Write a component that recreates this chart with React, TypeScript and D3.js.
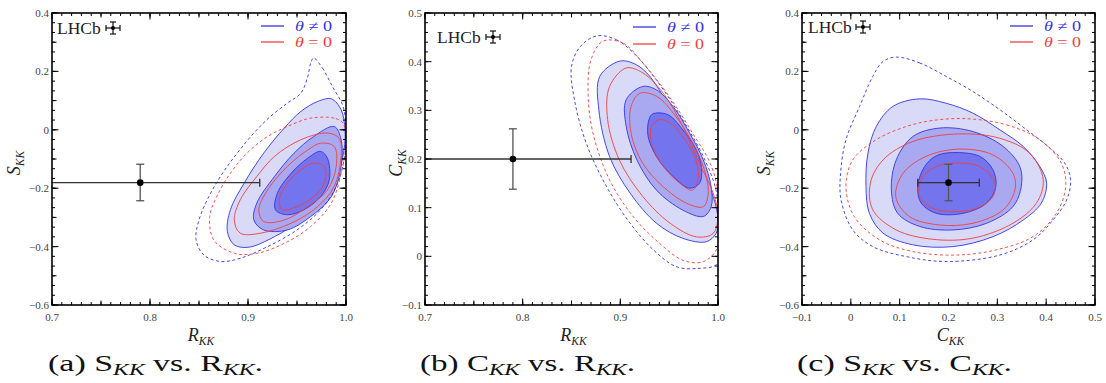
import React from "react";
import * as d3 from "d3";

type Pt = [number, number];

// ---- panel (a): S_KK vs R_KK ----
const aXTicks = [0.7, 0.8, 0.9, 1.0];
const aYTicks = [0.4, 0.2, 0, -0.2, -0.4, -0.6];

const aBlueDash: Pt[] = [
  [0.967, 0.246], [0.976, 0.211], [0.986, 0.149], [0.997, 0.08], [1.0, -0.011],
  [0.998, -0.103], [0.99, -0.194], [0.974, -0.274], [0.95, -0.343], [0.92, -0.4],
  [0.892, -0.44], [0.872, -0.451], [0.855, -0.429], [0.847, -0.377], [0.85, -0.309],
  [0.86, -0.229], [0.874, -0.149], [0.889, -0.08], [0.906, -0.011], [0.923, 0.046],
  [0.94, 0.091], [0.954, 0.126], [0.961, 0.183], [0.964, 0.229],
];
const aRedDash: Pt[] = [
  [0.997, 0.023], [0.988, 0.04], [0.964, 0.04], [0.944, 0.017], [0.92, -0.023],
  [0.899, -0.08], [0.882, -0.149], [0.868, -0.229], [0.861, -0.297], [0.865, -0.377],
  [0.886, -0.423], [0.909, -0.423], [0.937, -0.389], [0.964, -0.331], [0.985, -0.251],
  [0.995, -0.149], [1.0, -0.046],
];
const aBlue3: Pt[] = [
  [0.985, 0.106], [0.995, 0.069], [0.999, 0.0], [0.998, -0.069], [0.991, -0.16],
  [0.978, -0.24], [0.954, -0.309], [0.927, -0.366], [0.901, -0.402], [0.886, -0.394],
  [0.879, -0.349], [0.882, -0.274], [0.896, -0.183], [0.916, -0.08], [0.937, 0.006],
  [0.954, 0.063], [0.971, 0.097],
];
const aRed3: Pt[] = [
  [0.993, -0.029], [0.995, -0.091], [0.988, -0.194], [0.971, -0.263], [0.944, -0.32],
  [0.913, -0.354], [0.892, -0.354], [0.886, -0.309], [0.892, -0.24], [0.909, -0.16],
  [0.927, -0.091], [0.954, -0.034], [0.981, -0.011],
];
const aBlue2: Pt[] = [
  [0.988, 0.011], [0.995, -0.034], [0.995, -0.126], [0.985, -0.229], [0.964, -0.297],
  [0.94, -0.343], [0.916, -0.343], [0.906, -0.309], [0.909, -0.251], [0.927, -0.16],
  [0.947, -0.08], [0.967, -0.023],
];
const aRed2: Pt[] = [
  [0.974, -0.046], [0.988, -0.057], [0.99, -0.126], [0.981, -0.206], [0.961, -0.263],
  [0.937, -0.309], [0.916, -0.314], [0.911, -0.274], [0.92, -0.206], [0.94, -0.126],
  [0.961, -0.069],
];
const aBlue1: Pt[] = [
  [0.974, -0.074], [0.981, -0.097], [0.983, -0.171], [0.974, -0.229], [0.957, -0.274],
  [0.94, -0.291], [0.928, -0.274], [0.93, -0.217], [0.944, -0.149], [0.961, -0.097],
];
const aRed1: Pt[] = [
  [0.967, -0.114], [0.978, -0.126], [0.978, -0.183], [0.967, -0.229], [0.95, -0.263],
  [0.935, -0.274], [0.932, -0.24], [0.94, -0.183], [0.954, -0.137],
];
const aPoint = { x: 0.79, y: -0.181, xLo: 0.668, xHi: 0.912, yLo: -0.243, yHi: -0.118 };

// ---- panel (b): C_KK vs R_KK ----
const bXTicks = [0.7, 0.8, 0.9, 1.0];
const bYTicks = [0.5, 0.4, 0.3, 0.2, 0.1, 0, -0.1];

const bBlueDash: Pt[] = [
  [0.876, 0.453], [0.896, 0.445], [0.917, 0.411], [0.934, 0.37], [0.951, 0.322],
  [0.968, 0.267], [0.985, 0.205], [0.998, 0.136], [1.0, 0.082], [1.0, -0.014],
  [0.978, -0.025], [0.957, -0.021], [0.934, 0.013], [0.91, 0.068], [0.886, 0.143],
  [0.865, 0.233], [0.853, 0.322], [0.85, 0.39], [0.859, 0.431],
];
const bRedDash: Pt[] = [
  [0.882, 0.442], [0.903, 0.438], [0.923, 0.397], [0.94, 0.356], [0.957, 0.308],
  [0.974, 0.253], [0.992, 0.191], [1.0, 0.13], [1.0, 0.02], [0.985, -0.011],
  [0.964, -0.008], [0.94, 0.027], [0.913, 0.082], [0.889, 0.157], [0.872, 0.253],
  [0.867, 0.335], [0.87, 0.404],
];
const bBlue3: Pt[] = [
  [0.899, 0.401], [0.913, 0.397], [0.927, 0.377], [0.944, 0.329], [0.964, 0.26],
  [0.981, 0.185], [0.995, 0.123], [1.0, 0.075], [0.998, 0.047], [0.988, 0.03],
  [0.964, 0.037], [0.937, 0.068], [0.91, 0.13], [0.889, 0.205], [0.878, 0.301],
  [0.879, 0.37],
];
const bRed3: Pt[] = [
  [0.906, 0.387], [0.923, 0.377], [0.944, 0.335], [0.964, 0.267], [0.981, 0.191],
  [0.995, 0.13], [1.0, 0.082], [0.995, 0.047], [0.978, 0.04], [0.951, 0.068],
  [0.923, 0.123], [0.899, 0.198], [0.887, 0.281], [0.889, 0.349],
];
const bBlue2: Pt[] = [
  [0.923, 0.349], [0.937, 0.342], [0.954, 0.308], [0.971, 0.253], [0.985, 0.198],
  [0.993, 0.143], [0.993, 0.102], [0.985, 0.082], [0.964, 0.095], [0.937, 0.136],
  [0.917, 0.198], [0.906, 0.267], [0.906, 0.322],
];
const bRed2: Pt[] = [
  [0.92, 0.335], [0.937, 0.329], [0.957, 0.287], [0.974, 0.233], [0.986, 0.178],
  [0.99, 0.13], [0.985, 0.102], [0.968, 0.109], [0.944, 0.143], [0.923, 0.191],
  [0.911, 0.253], [0.911, 0.308],
];
const bBlue1: Pt[] = [
  [0.944, 0.294], [0.952, 0.287], [0.964, 0.26], [0.976, 0.226], [0.983, 0.185],
  [0.981, 0.15], [0.971, 0.14], [0.954, 0.164], [0.937, 0.205], [0.928, 0.253],
  [0.932, 0.291],
];
const bRed1: Pt[] = [
  [0.94, 0.281], [0.951, 0.274], [0.964, 0.246], [0.976, 0.205], [0.98, 0.164],
  [0.974, 0.136], [0.961, 0.15], [0.944, 0.185], [0.932, 0.233], [0.932, 0.267],
];
const bPoint = { x: 0.79, y: 0.2, xLo: 0.668, xHi: 0.911, yLo: 0.138, yHi: 0.262 };

// ---- panel (c): S_KK vs C_KK ----
const cXTicks = [-0.1, 0, 0.1, 0.2, 0.3, 0.4, 0.5];
const cYTicks = [0.4, 0.2, 0, -0.2, -0.4, -0.6];

const cBlueDash: Pt[] = [
  [0.093, 0.249], [0.141, 0.229], [0.195, 0.183], [0.25, 0.131], [0.305, 0.069],
  [0.36, 0.0], [0.408, -0.063], [0.438, -0.114], [0.45, -0.171], [0.442, -0.24],
  [0.414, -0.309], [0.373, -0.377], [0.305, -0.429], [0.195, -0.451], [0.113, -0.434],
  [0.045, -0.4], [0.004, -0.343], [-0.02, -0.24], [-0.021, -0.149], [-0.01, -0.034],
  [0.018, 0.08], [0.045, 0.183], [0.066, 0.234],
];
const cRedDash: Pt[] = [
  [0.237, 0.038], [0.319, 0.017], [0.387, -0.034], [0.431, -0.114], [0.44, -0.194],
  [0.421, -0.286], [0.373, -0.366], [0.298, -0.411], [0.216, -0.429], [0.127, -0.417],
  [0.059, -0.377], [0.007, -0.297], [-0.01, -0.194], [0.004, -0.103], [0.052, -0.034],
  [0.113, 0.011], [0.168, 0.032],
];
const cBlue3: Pt[] = [
  [0.141, 0.106], [0.195, 0.091], [0.25, 0.057], [0.305, 0.0], [0.353, -0.057],
  [0.387, -0.126], [0.401, -0.183], [0.39, -0.251], [0.353, -0.309], [0.291, -0.366],
  [0.209, -0.4], [0.127, -0.394], [0.066, -0.354], [0.038, -0.286], [0.031, -0.194],
  [0.035, -0.08], [0.052, 0.011], [0.086, 0.08],
];
const cRed3: Pt[] = [
  [0.223, -0.014], [0.305, -0.029], [0.366, -0.08], [0.394, -0.171], [0.38, -0.251],
  [0.332, -0.32], [0.25, -0.371], [0.168, -0.375], [0.093, -0.343], [0.045, -0.274],
  [0.04, -0.183], [0.066, -0.103], [0.127, -0.04],
];
const cBlue2: Pt[] = [
  [0.182, 0.006], [0.25, -0.006], [0.312, -0.057], [0.346, -0.126], [0.349, -0.194],
  [0.332, -0.263], [0.278, -0.32], [0.209, -0.343], [0.141, -0.331], [0.096, -0.286],
  [0.083, -0.206], [0.093, -0.103], [0.127, -0.023],
];
const cRed2: Pt[] = [
  [0.223, -0.066], [0.291, -0.086], [0.332, -0.149], [0.336, -0.206], [0.312, -0.274],
  [0.25, -0.32], [0.182, -0.326], [0.12, -0.297], [0.092, -0.229], [0.107, -0.149],
  [0.154, -0.091],
];
const cBlue1: Pt[] = [
  [0.209, -0.078], [0.264, -0.091], [0.291, -0.137], [0.297, -0.194], [0.278, -0.251],
  [0.23, -0.286], [0.175, -0.286], [0.144, -0.251], [0.137, -0.194], [0.151, -0.126],
  [0.175, -0.089],
];
const cRed1: Pt[] = [
  [0.209, -0.114], [0.264, -0.126], [0.294, -0.177], [0.291, -0.229], [0.257, -0.269],
  [0.209, -0.28], [0.168, -0.269], [0.141, -0.229], [0.144, -0.171], [0.168, -0.131],
];
const cPoint = { x: 0.2, y: -0.181, xLo: 0.137, xHi: 0.263, yLo: -0.243, yHi: -0.118 };

const FILL3 = "#d9d9f8";
const FILL2 = "#a9a9f1";
const FILL1 = "#7474ee";
const BLUE = "#3434e0";
const RED = "#ee4040";
const SERIF = "'Liberation Serif', 'DejaVu Serif', serif";

const fmt = (v: number) => (Math.abs(v) < 1e-9 ? "0" : d3.format(".1f")(v).replace("-", "\u2212"));

function steps(lo: number, hi: number, step: number) {
  const n = Math.round((hi - lo) / step);
  return d3.range(n + 1).map((i) => lo + i * step);
}

function Panel(props: any) {
  const {
    id, left, right, top, bottom, xDomain, yDomain, xTicks, yTicks,
    xMinor, yMinor, xMid, yMid, c, pt, xName, yName, lhcb, legendY, yTitleOff,
  } = props;
  const x = d3.scaleLinear().domain(xDomain).range([left, right]);
  const y = d3.scaleLinear().domain(yDomain).range([bottom, top]);
  const line = d3.line<Pt>().x((d) => x(d[0])).y((d) => y(d[1])).curve(d3.curveCatmullRomClosed.alpha(0.5));

  const xMinorTicks = steps(xDomain[0], xDomain[1], xMinor);
  const yMinorTicks = steps(yDomain[0], yDomain[1], yMinor);
  const xMidTicks = xMid ? steps(xDomain[0], xDomain[1], xMid) : [];
  const yMidTicks = yMid ? steps(yDomain[0], yDomain[1], yMid) : [];

  const tickEls: any[] = [];
  const addX = (vals: number[], len: number, key: string) =>
    vals.forEach((v, i) => {
      const px = x(v);
      tickEls.push(<line key={`${key}b${i}`} x1={px} x2={px} y1={bottom} y2={bottom - len} />);
      tickEls.push(<line key={`${key}t${i}`} x1={px} x2={px} y1={top} y2={top + len} />);
    });
  const addY = (vals: number[], len: number, key: string) =>
    vals.forEach((v, i) => {
      const py = y(v);
      tickEls.push(<line key={`${key}l${i}`} x1={left} x2={left + len} y1={py} y2={py} />);
      tickEls.push(<line key={`${key}r${i}`} x1={right} x2={right - len} y1={py} y2={py} />);
    });
  addX(xMinorTicks, 3, "xm");
  addX(xMidTicks, 4.5, "xd");
  addX(xTicks, 6.5, "xM");
  addY(yMinorTicks, 3, "ym");
  addY(yMidTicks, 4.5, "yd");
  addY(yTicks, 6.5, "yM");

  const clipId = `clip-${id}`;
  const cap = 4;
  const ly = top + lhcb.dy;
  const lx = left + lhcb.mx;
  return (
    <g>
      <defs>
        <clipPath id={clipId}>
          <rect x={left} y={top} width={right - left} height={bottom - top} />
        </clipPath>
      </defs>
      <g clipPath={`url(#${clipId})`}>
        <path d={line(c.blue3)!} fill={FILL3} stroke={BLUE} strokeWidth={0.9} />
        <path d={line(c.blue2)!} fill={FILL2} stroke={BLUE} strokeWidth={0.9} />
        <path d={line(c.blue1)!} fill={FILL1} stroke={BLUE} strokeWidth={0.9} />
        <path d={line(c.red3)!} fill="none" stroke={RED} strokeWidth={0.9} />
        <path d={line(c.red2)!} fill="none" stroke={RED} strokeWidth={0.9} />
        <path d={line(c.red1)!} fill="none" stroke={RED} strokeWidth={0.9} />
        <path d={line(c.blueDash)!} fill="none" stroke={BLUE} strokeWidth={0.9} strokeDasharray="3,2.5" />
        <path d={line(c.redDash)!} fill="none" stroke={RED} strokeWidth={0.9} strokeDasharray="3,2.5" />
        {/* measurement */}
        <g stroke="#333" strokeWidth={1.3}>
          <line x1={x(pt.xLo)} x2={x(pt.xHi)} y1={y(pt.y)} y2={y(pt.y)} />
          <line x1={x(pt.xLo)} x2={x(pt.xLo)} y1={y(pt.y) - cap} y2={y(pt.y) + cap} />
          <line x1={x(pt.xHi)} x2={x(pt.xHi)} y1={y(pt.y) - cap} y2={y(pt.y) + cap} />
          <line x1={x(pt.x)} x2={x(pt.x)} y1={y(pt.yLo)} y2={y(pt.yHi)} stroke="#555" />
          <line x1={x(pt.x) - cap} x2={x(pt.x) + cap} y1={y(pt.yLo)} y2={y(pt.yLo)} stroke="#555" />
          <line x1={x(pt.x) - cap} x2={x(pt.x) + cap} y1={y(pt.yHi)} y2={y(pt.yHi)} stroke="#555" />
        </g>
        <circle cx={x(pt.x)} cy={y(pt.y)} r={3.3} fill="#000" />
      </g>

      {/* LHCb tag */}
      <text x={left + lhcb.dx} y={ly + 6} fontFamily={SERIF} fontSize={17.5} fill="#222">LHCb</text>
      <g stroke="#111" strokeWidth={1.2}>
        <line x1={lx - 7} x2={lx + 7} y1={ly} y2={ly} />
        <line x1={lx - 7} x2={lx - 7} y1={ly - 3} y2={ly + 3} />
        <line x1={lx + 7} x2={lx + 7} y1={ly - 3} y2={ly + 3} />
        <line x1={lx} x2={lx} y1={ly - 6} y2={ly + 6} />
        <line x1={lx - 3} x2={lx + 3} y1={ly - 6} y2={ly - 6} />
        <line x1={lx - 3} x2={lx + 3} y1={ly + 6} y2={ly + 6} />
      </g>
      <circle cx={lx} cy={ly} r={2} fill="#000" />

      {/* legend */}
      <line x1={right - 85} x2={right - 62} y1={top + legendY[0]} y2={top + legendY[0]} stroke={BLUE} strokeWidth={1.3} />
      <line x1={right - 85} x2={right - 62} y1={top + legendY[1]} y2={top + legendY[1]} stroke={RED} strokeWidth={1.3} />
      <text x={right - 51} y={top + legendY[0] + 5} fontFamily={SERIF} fontSize={14} fill={BLUE} textLength={37} lengthAdjust="spacingAndGlyphs">
        <tspan fontStyle="italic">θ</tspan> ≠ 0
      </text>
      <text x={right - 51} y={top + legendY[1] + 5} fontFamily={SERIF} fontSize={14} fill={RED} textLength={37} lengthAdjust="spacingAndGlyphs">
        <tspan fontStyle="italic">θ</tspan> = 0
      </text>

      {/* frame and ticks */}
      <g stroke="#000" strokeWidth={1}>{tickEls}</g>
      <rect x={left} y={top} width={right - left} height={bottom - top} fill="none" stroke="#000" strokeWidth={1.6} />

      {/* tick labels */}
      {xTicks.map((v: number, i: number) => (
        <text key={`xl${i}`} x={x(v)} y={bottom + 16} textAnchor="middle" fontFamily={SERIF} fontSize={11} fill="#444">
          {fmt(v)}
        </text>
      ))}
      {yTicks.map((v: number, i: number) => (
        <text key={`yl${i}`} x={left - 3} y={y(v) + 4} textAnchor="end" fontFamily={SERIF} fontSize={11} fill="#444">
          {fmt(v)}
        </text>
      ))}

      {/* axis titles */}
      <text x={(left + right) / 2 + 2} y={bottom + 36} textAnchor="middle" fontFamily={SERIF} fontSize={18} fontStyle="italic" fill="#222">
        {xName}
        <tspan fontSize={11.5} dy={4}>KK</tspan>
      </text>
      <text
        transform={`translate(${left - yTitleOff},${(top + bottom) / 2 + 4}) rotate(-90)`}
        textAnchor="middle" fontFamily={SERIF} fontSize={18} fontStyle="italic" fill="#222"
      >
        {yName}
        <tspan fontSize={11.5} dy={4}>KK</tspan>
      </text>
    </g>
  );
}

function Caption({ x0, tag, a, b }: { x0: number; tag: string; a: string; b: string }) {
  return (
    <text x={x0} y={371} fontFamily={SERIF} fontSize={23} fill="#111" textLength={215} lengthAdjust="spacingAndGlyphs">
      ({tag}) {a}
      <tspan fontStyle="italic" fontSize={16} dy={4}>KK</tspan>
      <tspan dy={-4}> vs. {b}</tspan>
      <tspan fontStyle="italic" fontSize={16} dy={4}>KK</tspan>
      <tspan dy={-4}>.</tspan>
    </text>
  );
}

export default function App() {
  return (
    <div style={{ position: "absolute", left: 0, top: 0 }}>
      <svg width={1106} height={383} style={{ display: "block", background: "#fff" }}>
        <Panel
          id="a" left={52} right={346} top={13} bottom={305}
          xDomain={[0.7, 1.0]} yDomain={[-0.6, 0.4]} xTicks={aXTicks} yTicks={aYTicks}
          xMinor={0.01} xMid={0.05} yMinor={0.2 / 6} yMid={0.1}
          c={{ blue3: aBlue3, blue2: aBlue2, blue1: aBlue1, red3: aRed3, red2: aRed2, red1: aRed1, blueDash: aBlueDash, redDash: aRedDash }}
          pt={aPoint} xName="R" yName="S" yTitleOff={32}
          lhcb={{ dx: 5, dy: 15, mx: 61 }} legendY={[13, 29]}
        />
        <Panel
          id="b" left={425} right={718} top={13} bottom={305}
          xDomain={[0.7, 1.0]} yDomain={[-0.1, 0.5]} xTicks={bXTicks} yTicks={bYTicks}
          xMinor={0.01} xMid={0.05} yMinor={0.02}
          c={{ blue3: bBlue3, blue2: bBlue2, blue1: bBlue1, red3: bRed3, red2: bRed2, red1: bRed1, blueDash: bBlueDash, redDash: bRedDash }}
          pt={bPoint} xName="R" yName="C" yTitleOff={23}
          lhcb={{ dx: 12, dy: 24, mx: 68 }} legendY={[14, 31]}
        />
        <Panel
          id="c" left={802} right={1095} top={13} bottom={305}
          xDomain={[-0.1, 0.5]} yDomain={[-0.6, 0.4]} xTicks={cXTicks} yTicks={cYTicks}
          xMinor={0.02} yMinor={0.2 / 6} yMid={0.1}
          c={{ blue3: cBlue3, blue2: cBlue2, blue1: cBlue1, red3: cRed3, red2: cRed2, red1: cRed1, blueDash: cBlueDash, redDash: cRedDash }}
          pt={cPoint} xName="C" yName="S" yTitleOff={32}
          lhcb={{ dx: 6, dy: 14, mx: 61 }} legendY={[13, 29]}
        />
        <Caption x0={48} tag="a" a="S" b="R" />
        <Caption x0={420} tag="b" a="C" b="R" />
        <Caption x0={797} tag="c" a="S" b="C" />
      </svg>
    </div>
  );
}
